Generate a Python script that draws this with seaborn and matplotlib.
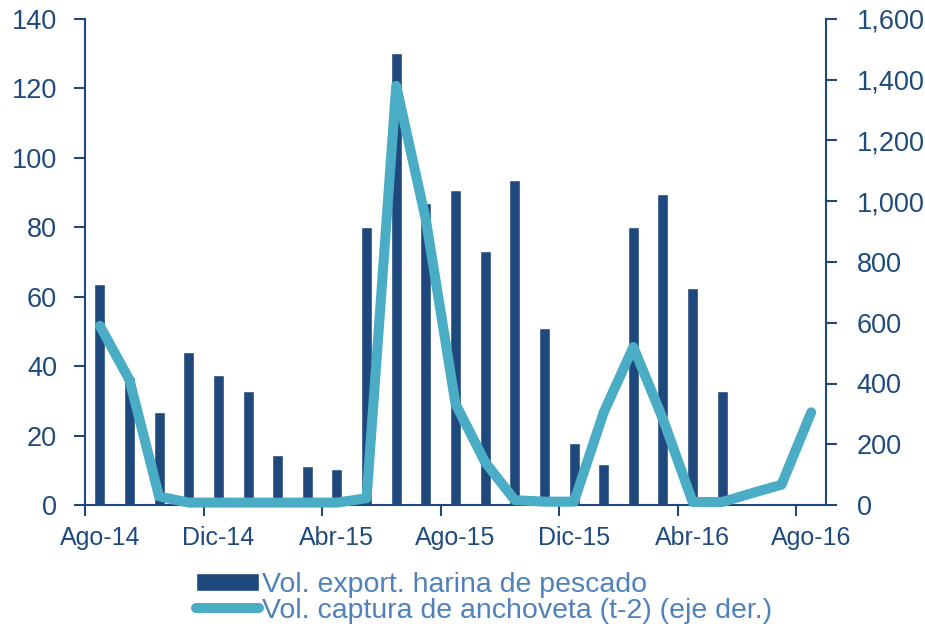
import numpy as np
import pandas as pd
import matplotlib
matplotlib.use('Agg')
import matplotlib.pyplot as plt
import seaborn as sns

# months Ago-14 .. Ago-16
meses = ['Ago-14', 'Sep-14', 'Oct-14', 'Nov-14', 'Dic-14', 'Ene-15', 'Feb-15', 'Mar-15',
         'Abr-15', 'May-15', 'Jun-15', 'Jul-15', 'Ago-15', 'Sep-15', 'Oct-15', 'Nov-15',
         'Dic-15', 'Ene-16', 'Feb-16', 'Mar-16', 'Abr-16', 'May-16', 'Jun-16', 'Jul-16',
         'Ago-16']

# export volume of fishmeal (left axis), available until May-16
harina = [63.7, 36.8, 26.7, 44.2, 37.5, 32.8, 14.5, 11.1, 10.4, 80.1, 130.1, 86.9,
          90.8, 73.2, 93.6, 50.9, 17.8, 11.8, 80.1, 89.5, 62.5, 32.8]

# anchovy catch (t-2), right axis
captura = [590, 412, 28, 8, 8, 8, 8, 8, 8, 22, 1380, 939, 333, 141, 16, 11, 11,
           305, 520, 283, 10, 10, 39, 67, 305]

tick_labels = ['Ago-14', 'Dic-14', 'Abr-15', 'Ago-15', 'Dic-15', 'Abr-16', 'Ago-16']

c_bar = '#1F497D'
c_line = '#4BACC6'
c_text = '#1F4A7E'
c_leg = '#4F81BD'

sns.set_style('ticks')
plt.rcParams['font.family'] = ['Liberation Sans', 'DejaVu Sans']

df_bar = pd.DataFrame({'mes': meses[:len(harina)], 'harina': harina})

fig = plt.figure(figsize=(9.25, 6.33), dpi=100)
ax = fig.add_axes([85 / 925, 1 - 505 / 633, (826 - 85) / 925, (505 - 19) / 633])

sns.barplot(data=df_bar, x='mes', y='harina', order=meses, color=c_bar,
            saturation=1, width=0.37, ax=ax, label='Vol. export. harina de pescado')

ax2 = ax.twinx()
sns.lineplot(x=np.arange(len(meses)), y=captura, color=c_line, linewidth=7.2,
             ax=ax2, label='Vol. captura de anchoveta (t-2) (eje der.)')
for ln in ax2.lines:
    ln.set_solid_joinstyle('round')
    ln.set_solid_capstyle('round')
    ln.set_clip_on(False)

ax.set_xlim(-0.5, len(meses) - 0.5)
ax.set_ylim(0, 140)
ax2.set_ylim(0, 1600)
ax.set_yticks(np.arange(0, 141, 20))
ax2.set_yticks(np.arange(0, 1601, 200))
ax2.set_yticklabels([f'{v:,}' for v in range(0, 1601, 200)])

ax.set_xticks(np.arange(-0.5, len(meses) - 1, 4))
ax.set_xticklabels([])
ax.set_xticks(np.arange(0, len(meses), 4), minor=True)
ax.set_xticklabels(tick_labels, minor=True)
ax.tick_params(axis='x', which='major', direction='out', length=8, width=1.5, color=c_bar)
ax.tick_params(axis='x', which='minor', length=0, pad=15, labelsize=18, labelcolor=c_text)
ax.tick_params(axis='y', direction='out', length=8, width=1.5, color=c_bar,
               pad=12, labelsize=19.5, labelcolor=c_text)
ax2.tick_params(axis='y', direction='out', length=8, width=1.5, color=c_bar,
                pad=14, labelsize=19.5, labelcolor=c_text)

ax.set_xlabel('')
ax.set_ylabel('')
ax2.set_ylabel('')

for a in (ax, ax2):
    a.spines['top'].set_visible(False)
    for s in a.spines.values():
        s.set_color(c_bar)
        s.set_linewidth(1.5)
ax.spines['right'].set_visible(False)
ax2.spines['left'].set_visible(False)
ax2.spines['bottom'].set_visible(False)

h1, l1 = ax.get_legend_handles_labels()
h2, l2 = ax2.get_legend_handles_labels()
for a in (ax, ax2):
    if a.get_legend() is not None:
        a.get_legend().remove()
leg = fig.legend(h1 + h2, l1 + l2, loc='upper left',
                 bbox_to_anchor=(196 / 925, 1 - 572 / 633), frameon=False,
                 fontsize=20.5, handlelength=2.2, handleheight=0.6,
                 handletextpad=0.12, labelspacing=0.0, borderpad=0, borderaxespad=0)
for t in leg.get_texts():
    t.set_color(c_leg)

fig.savefig('out.png', dpi=100)
